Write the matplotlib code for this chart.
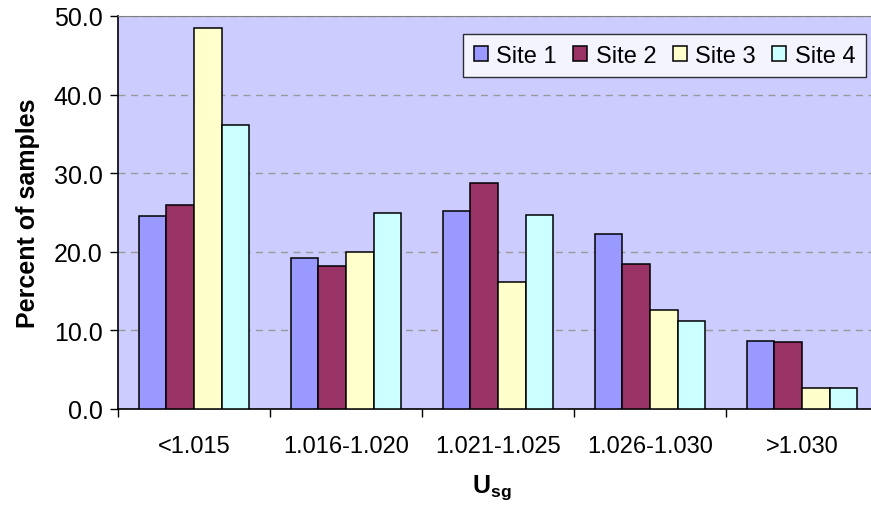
import matplotlib
matplotlib.use("Agg")
import matplotlib.pyplot as plt
import numpy as np

plt.rcParams['font.family'] = ['Liberation Sans', 'DejaVu Sans']
plt.rcParams['mathtext.fontset'] = 'custom'
plt.rcParams['mathtext.rm'] = 'Liberation Sans'
plt.rcParams['mathtext.bf'] = 'Liberation Sans:bold'

# data
categories = ['<1.015', '1.016-1.020', '1.021-1.025', '1.026-1.030', '>1.030']
site1 = [24.5, 19.2, 25.2, 22.3, 8.7]
site2 = [26.0, 18.2, 28.8, 18.4, 8.5]
site3 = [48.5, 20.0, 16.2, 12.6, 2.7]
site4 = [36.1, 25.0, 24.7, 11.2, 2.7]
series = [site1, site2, site3, site4]
labels = ['Site 1', 'Site 2', 'Site 3', 'Site 4']
colors = ['#9999FF', '#993366', '#FFFFCC', '#CCFFFF']

fig = plt.figure(figsize=(8.71, 5.10), dpi=100)
ax = fig.add_axes([118/871, 100/510, 760/871, 393/510])
ax.set_facecolor('#CCCCFF')

x = np.arange(len(categories))
w = 1 / 5.5
for i, (vals, lab, col) in enumerate(zip(series, labels, colors)):
    ax.bar(x + (i - 1.5) * w, vals, w, color=col, edgecolor='black',
           linewidth=1.1, label=lab, zorder=3)

ax.set_xlim(-0.5, 4.5)
ax.set_ylim(0, 50)
ax.set_yticks(np.arange(0, 51, 10))
ax.set_yticklabels([f'{v:.1f}' for v in np.arange(0, 51, 10)])
ax.yaxis.grid(True, linestyle=(0, (5, 4)), color='#999999', linewidth=1, zorder=1)

ax.set_xticks(np.arange(-0.5, 5, 1))
ax.set_xticklabels([])
ax.set_xticks(x, minor=True)
ax.set_xticklabels(categories, minor=True)
ax.tick_params(axis='x', which='minor', length=0, pad=19, labelsize=17)
ax.tick_params(axis='x', which='major', length=6, width=1, direction='out')
ax.tick_params(axis='y', length=6, width=1, direction='out', pad=5, labelsize=18)

for s in ['left', 'bottom']:
    ax.spines[s].set_color('black')
    ax.spines[s].set_linewidth(1.2)
ax.spines['top'].set_color('#808080')
ax.spines['right'].set_visible(False)

ax.set_ylabel('Percent of samples', fontsize=18, fontweight='bold', labelpad=10)
fig.text(492/871, 22/510, r'$\mathbf{U_{sg}}$', fontsize=18, ha='center', va='center')

leg = ax.legend(ncol=4, loc='upper right', bbox_to_anchor=(866/871, 1 - 35/510),
                bbox_transform=fig.transFigure, fontsize=17, frameon=True,
                fancybox=False, edgecolor='black', handlelength=0.6,
                handleheight=0.6, handletextpad=0.35, columnspacing=0.7,
                borderpad=0.45, borderaxespad=0)
leg.get_frame().set_linewidth(1.0)

plt.savefig('out.png', dpi=100)
